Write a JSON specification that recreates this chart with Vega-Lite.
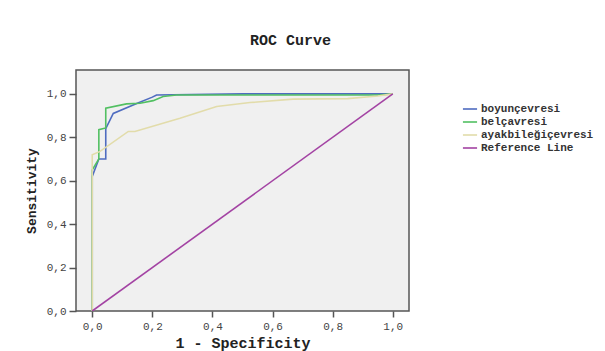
{
  "$schema": "https://vega.github.io/schema/vega-lite/v6.json",
  "autosize": "none",
  "width": 333,
  "height": 241,
  "padding": {"left": 76, "top": 70, "right": 196, "bottom": 40},
  "background": "white",
  "title": {
    "text": "ROC Curve",
    "font": "Liberation Mono",
    "fontSize": 15,
    "fontWeight": "bold",
    "color": "#222",
    "anchor": "middle",
    "frame": "group",
    "dx": 48,
    "offset": 22
  },
  "data": {
    "values": [
      {"series": "boyunçevresi", "o": 1, "x": 0, "y": 0},
      {"series": "boyunçevresi", "o": 2, "x": 0, "y": 0.62},
      {"series": "boyunçevresi", "o": 3, "x": 0.022, "y": 0.70},
      {"series": "boyunçevresi", "o": 4, "x": 0.045, "y": 0.70},
      {"series": "boyunçevresi", "o": 5, "x": 0.045, "y": 0.84},
      {"series": "boyunçevresi", "o": 6, "x": 0.07, "y": 0.91},
      {"series": "boyunçevresi", "o": 7, "x": 0.15, "y": 0.957},
      {"series": "boyunçevresi", "o": 8, "x": 0.2, "y": 0.985},
      {"series": "boyunçevresi", "o": 9, "x": 0.214, "y": 0.995},
      {"series": "boyunçevresi", "o": 10, "x": 0.5, "y": 1.0},
      {"series": "boyunçevresi", "o": 11, "x": 1, "y": 1},
      {"series": "belçavresi", "o": 1, "x": 0, "y": 0},
      {"series": "belçavresi", "o": 2, "x": 0, "y": 0.65},
      {"series": "belçavresi", "o": 3, "x": 0.022, "y": 0.70},
      {"series": "belçavresi", "o": 4, "x": 0.022, "y": 0.835},
      {"series": "belçavresi", "o": 5, "x": 0.045, "y": 0.843},
      {"series": "belçavresi", "o": 6, "x": 0.045, "y": 0.934},
      {"series": "belçavresi", "o": 7, "x": 0.114, "y": 0.954},
      {"series": "belçavresi", "o": 8, "x": 0.159, "y": 0.957},
      {"series": "belçavresi", "o": 9, "x": 0.203, "y": 0.969},
      {"series": "belçavresi", "o": 10, "x": 0.236, "y": 0.988},
      {"series": "belçavresi", "o": 11, "x": 0.28, "y": 0.995},
      {"series": "belçavresi", "o": 12, "x": 0.95, "y": 0.995},
      {"series": "belçavresi", "o": 13, "x": 1, "y": 1},
      {"series": "ayakbileğiçevresi", "o": 1, "x": 0, "y": 0},
      {"series": "ayakbileğiçevresi", "o": 2, "x": 0, "y": 0.72},
      {"series": "ayakbileğiçevresi", "o": 3, "x": 0.026, "y": 0.735},
      {"series": "ayakbileğiçevresi", "o": 4, "x": 0.12, "y": 0.827},
      {"series": "ayakbileğiçevresi", "o": 5, "x": 0.142, "y": 0.827},
      {"series": "ayakbileğiçevresi", "o": 6, "x": 0.292, "y": 0.888},
      {"series": "ayakbileğiçevresi", "o": 7, "x": 0.414, "y": 0.942},
      {"series": "ayakbileğiçevresi", "o": 8, "x": 0.525, "y": 0.96},
      {"series": "ayakbileğiçevresi", "o": 9, "x": 0.668, "y": 0.976},
      {"series": "ayakbileğiçevresi", "o": 10, "x": 0.85, "y": 0.978},
      {"series": "ayakbileğiçevresi", "o": 11, "x": 0.95, "y": 0.99},
      {"series": "ayakbileğiçevresi", "o": 12, "x": 1, "y": 1},
      {"series": "Reference Line", "o": 1, "x": 0, "y": 0},
      {"series": "Reference Line", "o": 2, "x": 1, "y": 1}
    ]
  },
  "mark": {"type": "line", "strokeWidth": 1.6, "clip": true},
  "encoding": {
    "x": {
      "field": "x",
      "type": "quantitative",
      "scale": {"domain": [-0.054, 1.054], "nice": false, "zero": false},
      "axis": {
        "title": "1 - Specificity",
        "values": [0, 0.2, 0.4, 0.6, 0.8, 1.0],
        "labelExpr": "replace(format(datum.value, '.1f'), '.', ',')",
        "grid": false,
        "domain": false,
        "tickColor": "#555",
        "tickSize": 6,
        "tickWidth": 1.5,
        "labelFont": "Liberation Mono",
        "labelFontSize": 11,
        "labelColor": "#444",
        "labelPadding": 3,
        "titleFont": "Liberation Mono",
        "titleFontSize": 15,
        "titleFontWeight": "bold",
        "titleColor": "#222",
        "titlePadding": 4
      }
    },
    "y": {
      "field": "y",
      "type": "quantitative",
      "scale": {"domain": [0, 1.11], "nice": false, "zero": false},
      "axis": {
        "title": "Sensitivity",
        "values": [0, 0.2, 0.4, 0.6, 0.8, 1.0],
        "labelExpr": "replace(format(datum.value, '.1f'), '.', ',')",
        "grid": false,
        "domain": false,
        "tickColor": "#555",
        "tickSize": 7,
        "tickWidth": 1.5,
        "labelFont": "Liberation Mono",
        "labelFontSize": 11,
        "labelColor": "#444",
        "labelPadding": 3,
        "titleFont": "Liberation Mono",
        "titleFontSize": 13,
        "titleFontWeight": "bold",
        "titleColor": "#222",
        "titlePadding": 8
      }
    },
    "color": {
      "field": "series",
      "type": "nominal",
      "scale": {
        "domain": ["boyunçevresi", "belçavresi", "ayakbileğiçevresi", "Reference Line"],
        "range": ["#4f6cc0", "#52c062", "#e2dcaa", "#a343a3"]
      },
      "legend": {
        "title": null,
        "orient": "none",
        "legendX": 386,
        "legendY": 31,
        "symbolType": "stroke",
        "symbolSize": 200,
        "symbolStrokeWidth": 1.6,
        "labelFont": "Liberation Mono",
        "labelFontSize": 11,
        "labelFontWeight": "bold",
        "labelColor": "#333",
        "rowPadding": 0,
        "labelOffset": 3
      }
    },
    "order": {"field": "o", "type": "quantitative"}
  },
  "config": {
    "view": {"fill": "#f0f0f0", "stroke": "#555", "strokeWidth": 1.5}
  }
}
